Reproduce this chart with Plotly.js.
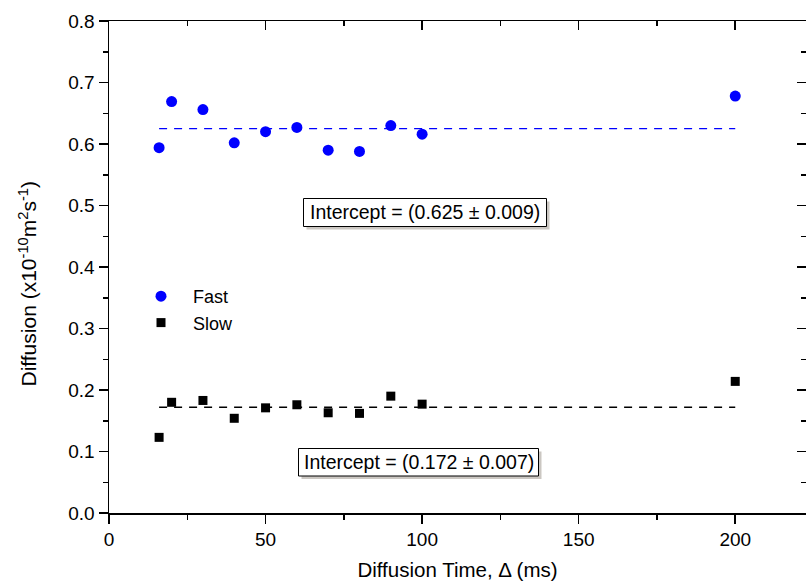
<!DOCTYPE html>
<html>
<head>
<meta charset="utf-8">
<script src="https://cdn.plot.ly/plotly-3.0.1.min.js"></script>
<style>html,body{margin:0;padding:0;background:#fff;}#chart{width:806px;height:585px;}</style>
</head>
<body>
<div id="chart"></div>
<script>
const timesMs = [16, 20, 30, 40, 50, 60, 70, 80, 90, 100, 200];
const fastD = [0.594, 0.669, 0.656, 0.602, 0.620, 0.627, 0.590, 0.588, 0.630, 0.616, 0.678];
const slowD = [0.123, 0.180, 0.183, 0.154, 0.171, 0.176, 0.163, 0.162, 0.190, 0.177, 0.214];
const fastIntercept = 0.625, fastErr = 0.009;
const slowIntercept = 0.172, slowErr = 0.007;
const xTicks = [0, 50, 100, 150, 200];
const yTicks = [0.0, 0.1, 0.2, 0.3, 0.4, 0.5, 0.6, 0.7, 0.8];

const FONT = 'Liberation Sans, Arial, sans-serif';
const xMin = Math.min(...timesMs), xMax = Math.max(...timesMs);
const fitX = [xMin, xMax];

const traces = [
  {x: fitX, y: fitX.map(() => fastIntercept), mode: 'lines', showlegend: false, hoverinfo: 'skip',
   line: {color: '#0000ff', width: 1.4, dash: '8px,7px'}},
  {x: fitX, y: fitX.map(() => slowIntercept), mode: 'lines', showlegend: false, hoverinfo: 'skip',
   line: {color: '#000000', width: 1.4, dash: '8px,7px'}},
  {x: timesMs, y: fastD, mode: 'markers', name: 'Fast', legendgroup: 'a',
   marker: {symbol: 'circle', size: 11, color: '#0000ff'}},
  {x: timesMs, y: slowD, mode: 'markers', name: 'Slow', legendgroup: 'b',
   marker: {symbol: 'square', size: 9, color: '#000000'}},
  {x: [], y: [], xaxis: 'x2', yaxis: 'y2', showlegend: false, hoverinfo: 'skip'}
];

const xr = [0, 222.6], yr = [0, 0.8];
const fmt = v => v.toFixed(1);
const axCommon = {showgrid: false, zeroline: false, showline: true, linecolor: '#000', linewidth: 1.5};

const W = 697, H = 492;
const px = p => (p - 109) / W, py = p => 1 - (p - 21) / H;

const label1 = 'Intercept = (' + fastIntercept.toFixed(3) + ' \u00b1 ' + fastErr.toFixed(3) + ')';
const label2 = 'Intercept = (' + slowIntercept.toFixed(3) + ' \u00b1 ' + slowErr.toFixed(3) + ')';

function boxShapes(l, t, r, b) {
  return [
    {type: 'rect', xref: 'paper', yref: 'paper', x0: px(l + 3), x1: px(r + 3), y0: py(b + 3), y1: py(t + 3),
     fillcolor: '#cbc7c2', line: {width: 0}, layer: 'above'},
    {type: 'rect', xref: 'paper', yref: 'paper', x0: px(l), x1: px(r), y0: py(b), y1: py(t),
     fillcolor: '#ffffff', line: {color: '#000', width: 1}, layer: 'above'}
  ];
}
function boxText(text, l, t, r, b) {
  return {xref: 'paper', yref: 'paper', x: px((l + r) / 2), y: py((t + b) / 2), text: text, showarrow: false,
          xanchor: 'center', yanchor: 'middle', font: {family: FONT, size: 19.5, color: '#000'}};
}
const B1 = [303.5, 198.5, 546.5, 226.5], B2 = [298.5, 448.5, 538.5, 476];

const yTitle = {xref: 'paper', yref: 'paper', x: px(27), y: py(284.5), xanchor: 'center', yanchor: 'middle',
  textangle: -90, showarrow: false, text: 'Diffusion (x10<sup>-10</sup>m<sup>2</sup>s<sup>-1</sup>)',
  font: {family: FONT, size: 21, color: '#000'}};

const layout = {
  width: 806, height: 585,
  margin: {l: 109, r: 0, t: 21, b: 72},
  paper_bgcolor: '#fff', plot_bgcolor: '#fff',
  font: {family: FONT, color: '#000'},
  showlegend: true,
  legend: {x: px(129), y: py(278), xanchor: 'left', yanchor: 'top', bgcolor: 'rgba(0,0,0,0)',
           font: {family: FONT, size: 18}, itemwidth: 54, tracegroupgap: 0, traceorder: 'grouped'},
  xaxis: Object.assign({}, axCommon, {range: xr, tickvals: xTicks, ticktext: xTicks.map(String),
    ticks: 'outside', ticklen: 9, tickwidth: 1.5, tickcolor: '#000',
    minor: {dtick: 25, tick0: 0, ticks: 'outside', ticklen: 5, tickwidth: 1.5, tickcolor: '#000'},
    tickfont: {family: FONT, size: 19},
    title: {text: 'Diffusion Time, \u0394 (ms)', font: {family: FONT, size: 20.5}, standoff: 13}}),
  yaxis: Object.assign({}, axCommon, {range: yr, tickvals: yTicks, ticktext: yTicks.map(fmt),
    ticks: 'outside', ticklen: 9, tickwidth: 1.5, tickcolor: '#000',
    minor: {dtick: 0.05, tick0: 0, ticks: 'outside', ticklen: 5, tickwidth: 1.5, tickcolor: '#000'},
    tickfont: {family: FONT, size: 19}}),
  xaxis2: Object.assign({}, axCommon, {overlaying: 'x', side: 'top', anchor: 'y2', range: xr, tickvals: xTicks,
    showticklabels: false, ticks: 'inside', ticklen: 9, tickwidth: 1.5, tickcolor: '#000',
    minor: {dtick: 25, tick0: 0, ticks: 'inside', ticklen: 5, tickwidth: 1.5, tickcolor: '#000'}}),
  yaxis2: Object.assign({}, axCommon, {overlaying: 'y', side: 'right', anchor: 'x2', range: yr, tickvals: yTicks,
    showticklabels: false, ticks: 'inside', ticklen: 9, tickwidth: 1.5, tickcolor: '#000',
    minor: {dtick: 0.05, tick0: 0, ticks: 'inside', ticklen: 5, tickwidth: 1.5, tickcolor: '#000'}}),
  shapes: boxShapes(...B1).concat(boxShapes(...B2)),
  annotations: [boxText(label1, ...B1), boxText(label2, ...B2), yTitle]
};

Plotly.newPlot('chart', traces, layout, {displayModeBar: false, staticPlot: true});
</script>
</body>
</html>
